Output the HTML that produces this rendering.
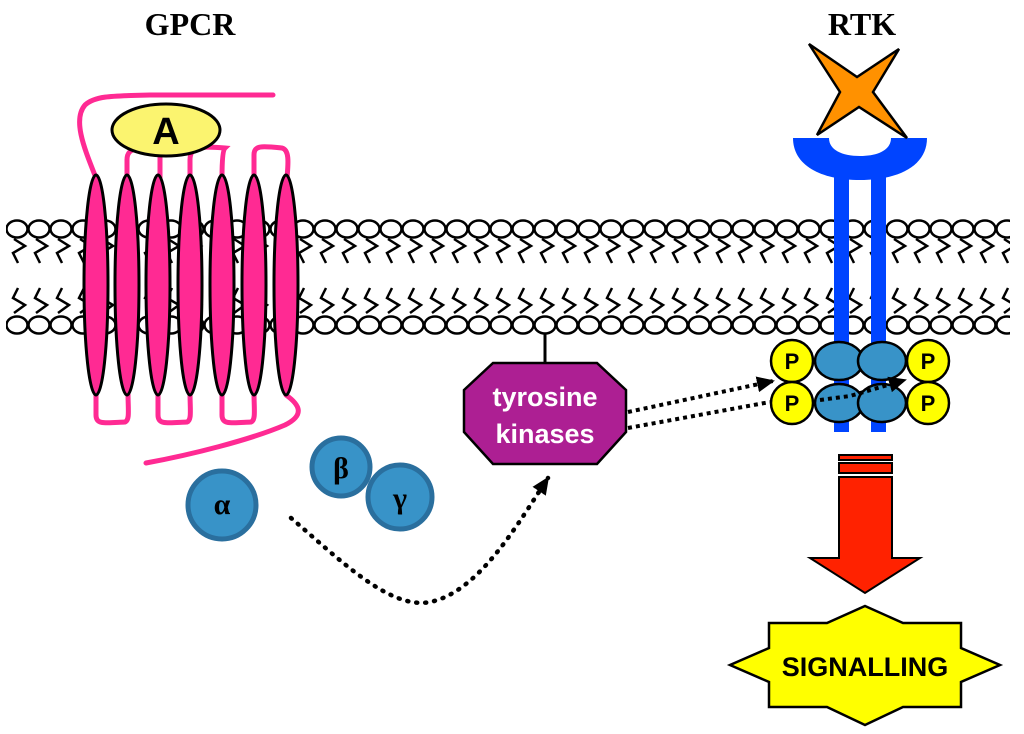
<!DOCTYPE html>
<html><head><meta charset="utf-8"><style>html,body{margin:0;padding:0;background:#fff}svg{display:block}</style></head>
<body>
<svg width="1024" height="734" viewBox="0 0 1024 734" xmlns="http://www.w3.org/2000/svg">
<defs>
<pattern id="top" x="6" y="0" width="22" height="734" patternUnits="userSpaceOnUse">
  <ellipse cx="11" cy="229" rx="10.5" ry="8.5" fill="#fff" stroke="#000" stroke-width="2.5"/>
  <polyline points="8,239 19,246 7,253 12,263" fill="none" stroke="#000" stroke-width="2.5"/>
  <polyline points="12,288 7,298 19,305 8,313" fill="none" stroke="#000" stroke-width="2.5"/>
  <ellipse cx="11" cy="325" rx="10.5" ry="8.5" fill="#fff" stroke="#000" stroke-width="2.5"/>
</pattern>
<marker id="ah2" markerWidth="18" markerHeight="16" refX="16" refY="8" orient="auto" markerUnits="userSpaceOnUse"><path d="M0,0 L18,8 L0,16 Z" fill="#000"/></marker>
</defs>
<rect x="6" y="215" width="1004" height="120" fill="url(#top)"/>

<text x="190" y="35" font-family="Liberation Serif, serif" font-weight="bold" font-size="32" text-anchor="middle">GPCR</text>
<text x="862" y="35" font-family="Liberation Serif, serif" font-weight="bold" font-size="32" text-anchor="middle">RTK</text>

<!-- GPCR loops -->
<g fill="none" stroke="#ff2a93" stroke-width="5" stroke-linecap="round">
<path d="M96,178 C85,150 72,120 85,105 C95,96 110,96 150,95 L273,95"/>
<path d="M127,178 L127,160 C127,148 135,148 160,148 L160,178"/>
<path d="M190,178 L190,160 C190,146 200,146 225,148 C223,150 222,160 222,178"/>
<path d="M254,178 L254,155 C254,145 262,146 282,148 C290,150 288,165 287,178"/>
<path d="M96,392 L96,415 C96,425 105,423 125,422 C130,420 128,410 128,392"/>
<path d="M158,392 L158,415 C158,425 167,423 187,422 C192,420 190,410 190,392"/>
<path d="M222,392 L222,415 C222,425 231,423 251,422 C256,420 254,410 254,392"/>
<path d="M286,395 C300,405 305,415 285,425 C250,440 190,455 146,463"/>
</g>
<g fill="#ff2a93" stroke="#000" stroke-width="3">
<ellipse cx="96" cy="285" rx="12" ry="110"/>
<ellipse cx="127" cy="285" rx="12" ry="110"/>
<ellipse cx="158" cy="285" rx="12" ry="110"/>
<ellipse cx="190" cy="285" rx="12" ry="110"/>
<ellipse cx="222" cy="285" rx="12" ry="110"/>
<ellipse cx="254" cy="285" rx="12" ry="110"/>
<ellipse cx="286" cy="285" rx="12" ry="110"/>
</g>
<ellipse cx="166" cy="130" rx="54" ry="26" fill="#fbf46f" stroke="#000" stroke-width="3"/>
<text x="166" y="144" font-family="Liberation Sans, sans-serif" font-weight="bold" font-size="38" text-anchor="middle">A</text>

<!-- G proteins -->
<g fill="#3893c8" stroke="#2a6f9e" stroke-width="5">
<circle cx="222" cy="505" r="34"/>
<circle cx="341" cy="467" r="29"/>
<circle cx="400" cy="497" r="32"/>
</g>
<g font-family="Liberation Serif, serif" font-size="30" font-weight="bold" text-anchor="middle">
<text x="222" y="514">α</text><text x="341" y="478">β</text><text x="400" y="508">γ</text>
</g>
<path d="M291,518 C340,560 390,610 430,602 C480,592 520,520 548,478" fill="none" stroke="#000" stroke-width="4.5" stroke-dasharray="1 8" stroke-linecap="round" marker-end="url(#ah2)"/>

<!-- tyrosine kinases -->
<line x1="545" y1="333" x2="545" y2="363" stroke="#000" stroke-width="3"/>
<polygon points="493,363 597,363 626,390 626,432 597,464 493,464 464,432 464,390" fill="#ad1f93" stroke="#000" stroke-width="2.5"/>
<text x="545" y="406" fill="#fff" font-family="Liberation Sans, sans-serif" font-weight="bold" font-size="27" text-anchor="middle">tyrosine</text>
<text x="545" y="443" fill="#fff" font-family="Liberation Sans, sans-serif" font-weight="bold" font-size="27" text-anchor="middle">kinases</text>

<!-- RTK -->
<path d="M793,138 L927,138 C927,165 900,180 860,180 C820,180 793,165 793,138 Z" fill="#0044ff"/>
<path d="M829,138 L891,138 C891,150 878,156 860,156 C842,156 829,150 829,138 Z" fill="#fff"/>
<rect x="834" y="175" width="15" height="257" fill="#0044ff"/>
<rect x="871" y="175" width="15" height="257" fill="#0044ff"/>
<polygon points="809,44 857,77 899,49 873,92 907,138 859,107 817,135 840,92" fill="#ff9100" stroke="#000" stroke-width="2.5"/>

<g fill="#3893c8" stroke="#000" stroke-width="2.5">
<ellipse cx="839" cy="361" rx="24" ry="19"/>
<ellipse cx="882" cy="361" rx="24" ry="19"/>
<ellipse cx="839" cy="403" rx="24" ry="19"/>
<ellipse cx="882" cy="403" rx="24" ry="19"/>
</g>
<g fill="#ffff00" stroke="#000" stroke-width="2.5">
<circle cx="792" cy="361" r="21"/><circle cx="792" cy="403" r="21"/>
<circle cx="928" cy="361" r="21"/><circle cx="928" cy="403" r="21"/>
</g>
<g font-family="Liberation Sans, sans-serif" font-weight="bold" font-size="22" text-anchor="middle">
<text x="792" y="369">P</text><text x="792" y="411">P</text><text x="928" y="369">P</text><text x="928" y="411">P</text>
</g>
<line x1="628" y1="412" x2="773" y2="381" stroke="#000" stroke-width="4" stroke-dasharray="4 4" marker-end="url(#ah2)"/>
<line x1="628" y1="428" x2="770" y2="402" stroke="#000" stroke-width="4" stroke-dasharray="4 4"/>
<path d="M820,400 L850,396 L905,380" fill="none" stroke="#000" stroke-width="4" stroke-dasharray="4 4" marker-end="url(#ah2)"/>

<!-- red arrow -->
<g fill="#ff2200" stroke="#000" stroke-width="2">
<rect x="839" y="455" width="53" height="5"/>
<rect x="839" y="463" width="53" height="10"/>
<polygon points="839,477 892,477 892,558 920,558 865,593 810,558 839,558"/>
</g>

<!-- signalling -->
<polygon points="865,606 903,623 961,623 961,648 1000,665 961,682 961,707 903,707 865,725 827,707 769,707 769,682 730,665 769,648 769,623 827,623" fill="#ffff00" stroke="#000" stroke-width="2.5"/>
<text x="865" y="676" font-family="Liberation Sans, sans-serif" font-weight="bold" font-size="27" text-anchor="middle">SIGNALLING</text>
</svg>
</body></html>
